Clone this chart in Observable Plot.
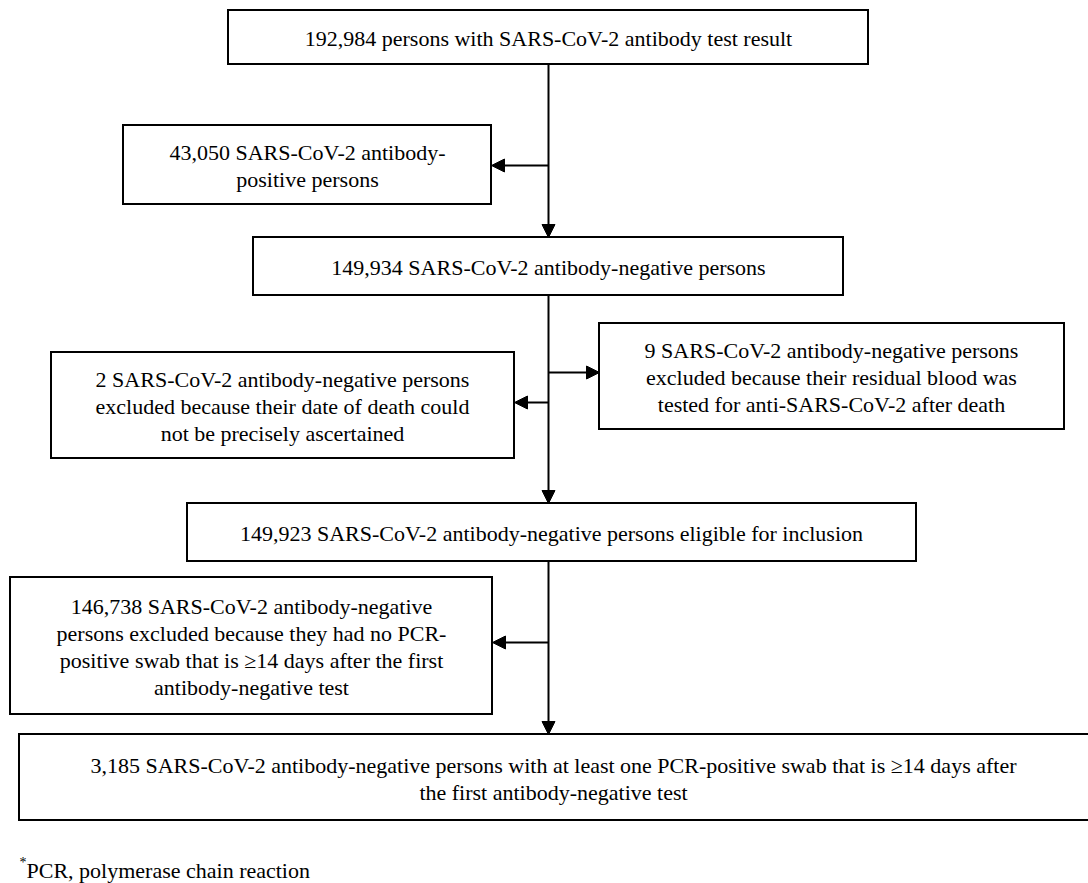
<!DOCTYPE html>
<html>
<head>
<meta charset="utf-8">
<script src="https://cdn.jsdelivr.net/npm/d3@7"></script>
<script src="https://cdn.jsdelivr.net/npm/@observablehq/plot@0.6"></script>
<style>
  html, body { margin: 0; padding: 0; background: #fff; font-family: "Liberation Serif", "Times New Roman", Tinos, "DejaVu Serif", serif; }
  #chart svg { display: block; }
</style>
</head>
<body>
<div id="chart"></div>
<script>
// ---- data: flow counts and box texts ----
const counts = [192984, 43050, 149934, 2, 9, 149923, 146738, 3185];
const boxTexts = [
  "192,984 persons with SARS-CoV-2 antibody test result",
  "43,050 SARS-CoV-2 antibody-\npositive persons",
  "149,934 SARS-CoV-2 antibody-negative persons",
  "2 SARS-CoV-2 antibody-negative persons\nexcluded because their date of death could\nnot be precisely ascertained",
  "9 SARS-CoV-2 antibody-negative persons\nexcluded because their residual blood was\ntested for anti-SARS-CoV-2 after death",
  "149,923 SARS-CoV-2 antibody-negative persons eligible for inclusion",
  "146,738 SARS-CoV-2 antibody-negative\npersons excluded because they had no PCR-\npositive swab that is \u226514 days after the first\nantibody-negative test",
  "3,185 SARS-CoV-2 antibody-negative persons with at least one PCR-positive swab that is \u226514 days after\nthe first antibody-negative test"
];
const footnoteMark = "*";
const footnoteText = "PCR, polymerase chain reaction";

// ---- layout (diagram geometry, in pixel units of the scales) ----
const layout = [
  {x1: 228, x2: 868, y1: 10, y2: 64},
  {x1: 123, x2: 491, y1: 125, y2: 204},
  {x1: 253, x2: 843, y1: 237, y2: 295},
  {x1: 51, x2: 514, y1: 352, y2: 458},
  {x1: 599, x2: 1064, y1: 323, y2: 429},
  {x1: 187, x2: 916, y1: 503, y2: 561},
  {x1: 10, x2: 492, y1: 577, y2: 714},
  {x1: 19, x2: 1096, y1: 734, y2: 820}
];
const textCenterX = [548, 307, 548, 282, 831, 551, 251, 553];
const trunkX = 548;
const trunks = [[0, 2], [2, 5], [5, 7]];
const sideArrows = [
  {box: 1, y: 165, side: "left"},
  {box: 4, y: 372, side: "right"},
  {box: 3, y: 402, side: "left"},
  {box: 6, y: 642, side: "left"}
];

const boxes = layout.map((b, i) => ({...b, text: boxTexts[i], n: counts[i], cx: textCenterX[i], cy: (b.y1 + b.y2) / 2}));

const segs = [];
for (const [a, b] of trunks) segs.push({x1: trunkX, y1: layout[a].y2, x2: trunkX, y2: layout[b].y1});
for (const s of sideArrows) {
  const b = layout[s.box];
  segs.push({x1: trunkX, y1: s.y, x2: s.side === "left" ? b.x2 : b.x1, y2: s.y});
}
const L = 13, W = 6.5;
const heads = [];
segs.forEach((s, i) => {
  const dx = s.x2 - s.x1, dy = s.y2 - s.y1, len = Math.hypot(dx, dy);
  const ux = dx / len, uy = dy / len, px = -uy, py = ux;
  const bx = s.x2 - ux * L, by = s.y2 - uy * L;
  heads.push({id: i, x: s.x2, y: s.y2});
  heads.push({id: i, x: bx + px * W, y: by + py * W});
  heads.push({id: i, x: bx - px * W, y: by - py * W});
  heads.push({id: i, x: s.x2, y: s.y2});
});
const shafts = segs.map(s => {
  const dx = s.x2 - s.x1, dy = s.y2 - s.y1, len = Math.hypot(dx, dy);
  return {x1: s.x1, y1: s.y1, x2: s.x2 - dx / len * (L - 2), y2: s.y2 - dy / len * (L - 2)};
});

const FONT = "'Liberation Serif', 'Times New Roman', Tinos, 'DejaVu Serif', serif";

const chart = Plot.plot({
  width: 1088,
  height: 883,
  margin: 0,
  style: {background: "#fff", color: "#000", fontFamily: FONT},
  x: {domain: [0, 1088], range: [0, 1088], axis: null},
  y: {domain: [0, 883], range: [0, 883], axis: null},
  marks: [
    Plot.link(shafts, {x1: "x1", y1: "y1", x2: "x2", y2: "y2", stroke: "#000", strokeWidth: 2}),
    Plot.line(heads, {x: "x", y: "y", z: "id", fill: "#000", stroke: "#000", strokeWidth: 1, curve: "linear"}),
    Plot.rect(boxes, {x1: "x1", x2: "x2", y1: "y1", y2: "y2", fill: "#fff", stroke: "#000", strokeWidth: 2}),
    Plot.text(boxes, {x: "cx", y: "cy", text: "text", fontSize: 22, lineHeight: 1.23, fill: "#000", textAnchor: "middle"}),
    Plot.text([footnoteMark], {x: 19, y: 862, text: d => d, fontSize: 14, textAnchor: "start", fill: "#000"}),
    Plot.text([footnoteText], {x: 26, y: 870, text: d => d, fontSize: 22, textAnchor: "start", fill: "#000"})
  ]
});
// force the serif face on every text node
chart.querySelectorAll("g, text, tspan").forEach(el => {
  el.removeAttribute("font-family");
  el.style.setProperty("font-family", FONT, "important");
});
chart.style.setProperty("font-family", FONT, "important");
document.getElementById("chart").appendChild(chart);
</script>
</body>
</html>
